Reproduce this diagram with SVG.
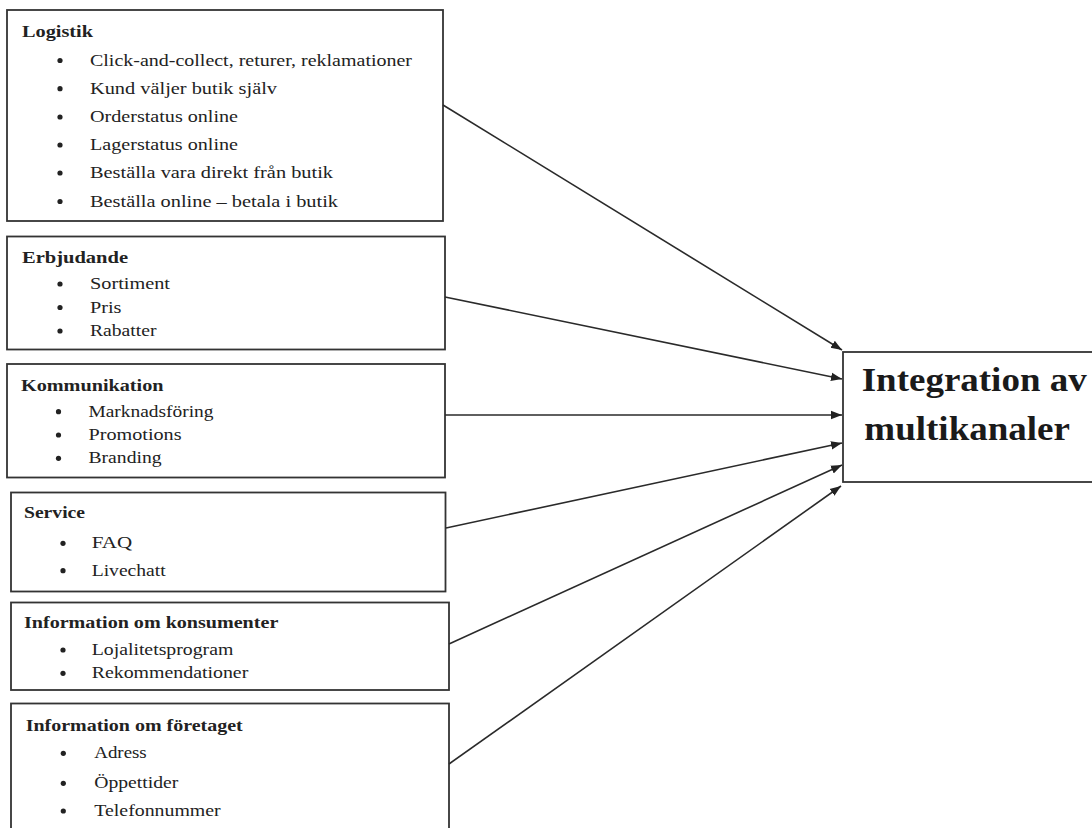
<svg xmlns="http://www.w3.org/2000/svg" width="1092" height="828" viewBox="0 0 1092 828">
<defs>
<style>
.box{fill:#fff;stroke:#333;stroke-width:1.8}
.h{font-family:"Liberation Serif","Times New Roman",serif;font-weight:bold;font-size:16px;fill:#222}
.t{font-family:"Liberation Serif","Times New Roman",serif;font-size:16px;fill:#222}
.b{fill:#222}
.title{font-family:"Liberation Serif","Times New Roman",serif;font-weight:bold;font-size:34px;fill:#1a1a1a}
.c{stroke:#2a2a2a;stroke-width:1.6;fill:none;marker-end:url(#ah)}
</style>
<marker id="ah" markerWidth="12" markerHeight="10" refX="11" refY="5" orient="auto" markerUnits="userSpaceOnUse">
<path d="M0,0.8 L11,5 L0,9.2 Z" fill="#222"/>
</marker>
</defs>
<rect width="1092" height="828" fill="#fff"/>

<g id="logistik">
<rect class="box" x="7" y="10" width="436" height="211"/>
<text class="h" x="22" y="36.5" textLength="71" lengthAdjust="spacingAndGlyphs">Logistik</text>
<circle class="b" cx="60" cy="60.5" r="2.6"/><text class="t" x="90" y="65.5" textLength="322" lengthAdjust="spacingAndGlyphs">Click-and-collect, returer, reklamationer</text>
<circle class="b" cx="60" cy="88.7" r="2.6"/><text class="t" x="90" y="93.7" textLength="187" lengthAdjust="spacingAndGlyphs">Kund väljer butik själv</text>
<circle class="b" cx="60" cy="117" r="2.6"/><text class="t" x="90" y="122" textLength="148" lengthAdjust="spacingAndGlyphs">Orderstatus online</text>
<circle class="b" cx="60" cy="145" r="2.6"/><text class="t" x="90" y="150" textLength="148" lengthAdjust="spacingAndGlyphs">Lagerstatus online</text>
<circle class="b" cx="60" cy="173" r="2.6"/><text class="t" x="90" y="178" textLength="243" lengthAdjust="spacingAndGlyphs">Beställa vara direkt från butik</text>
<circle class="b" cx="60" cy="201.5" r="2.6"/><text class="t" x="90" y="206.5" textLength="248" lengthAdjust="spacingAndGlyphs">Beställa online – betala i butik</text>
</g>

<g id="erbjudande">
<rect class="box" x="7" y="236.5" width="438" height="113"/>
<text class="h" x="22" y="263" textLength="106" lengthAdjust="spacingAndGlyphs">Erbjudande</text>
<circle class="b" cx="60" cy="284" r="2.6"/><text class="t" x="90" y="289" textLength="80" lengthAdjust="spacingAndGlyphs">Sortiment</text>
<circle class="b" cx="60" cy="307.5" r="2.6"/><text class="t" x="90" y="312.5" textLength="31.5" lengthAdjust="spacingAndGlyphs">Pris</text>
<circle class="b" cx="60" cy="331" r="2.6"/><text class="t" x="90" y="336" textLength="66.5" lengthAdjust="spacingAndGlyphs">Rabatter</text>
</g>

<g id="kommunikation">
<rect class="box" x="7" y="364" width="438" height="113.5"/>
<text class="h" x="21" y="390.5" textLength="142.5" lengthAdjust="spacingAndGlyphs">Kommunikation</text>
<circle class="b" cx="58.5" cy="411.7" r="2.6"/><text class="t" x="88.5" y="416.7" textLength="125" lengthAdjust="spacingAndGlyphs">Marknadsföring</text>
<circle class="b" cx="58.5" cy="435" r="2.6"/><text class="t" x="88.5" y="440" textLength="93" lengthAdjust="spacingAndGlyphs">Promotions</text>
<circle class="b" cx="58.5" cy="458.3" r="2.6"/><text class="t" x="88.5" y="463.3" textLength="73" lengthAdjust="spacingAndGlyphs">Branding</text>
</g>

<g id="service">
<rect class="box" x="11" y="492.5" width="434.5" height="99"/>
<text class="h" x="24" y="518.3" textLength="61" lengthAdjust="spacingAndGlyphs">Service</text>
<circle class="b" cx="63" cy="543.3" r="2.6"/><text class="t" x="91.7" y="548.3" textLength="40.5" lengthAdjust="spacingAndGlyphs">FAQ</text>
<circle class="b" cx="63" cy="570.7" r="2.6"/><text class="t" x="91.7" y="575.7" textLength="74" lengthAdjust="spacingAndGlyphs">Livechatt</text>
</g>

<g id="konsumenter">
<rect class="box" x="11" y="602.5" width="438" height="87.5"/>
<text class="h" x="24" y="628.3" textLength="254.3" lengthAdjust="spacingAndGlyphs">Information om konsumenter</text>
<circle class="b" cx="63" cy="650" r="2.6"/><text class="t" x="91.7" y="655" textLength="141.6" lengthAdjust="spacingAndGlyphs">Lojalitetsprogram</text>
<circle class="b" cx="63" cy="673.3" r="2.6"/><text class="t" x="91.7" y="678.3" textLength="156.6" lengthAdjust="spacingAndGlyphs">Rekommendationer</text>
</g>

<g id="foretaget">
<rect class="box" x="11" y="703.5" width="438" height="140"/>
<text class="h" x="25.7" y="730.7" textLength="217" lengthAdjust="spacingAndGlyphs">Information om företaget</text>
<circle class="b" cx="63.3" cy="753.3" r="2.6"/><text class="t" x="94.3" y="758.3" textLength="52.4" lengthAdjust="spacingAndGlyphs">Adress</text>
<circle class="b" cx="63.3" cy="783.3" r="2.6"/><text class="t" x="94.3" y="788.3" textLength="84" lengthAdjust="spacingAndGlyphs">Öppettider</text>
<circle class="b" cx="63.3" cy="811" r="2.6"/><text class="t" x="94.3" y="816" textLength="126.4" lengthAdjust="spacingAndGlyphs">Telefonnummer</text>
</g>

<g id="integration">
<rect class="box" x="843" y="352" width="260" height="130"/>
<text class="title" x="861.7" y="390.7" textLength="225" lengthAdjust="spacingAndGlyphs">Integration av</text>
<text class="title" x="864.3" y="440" textLength="205.7" lengthAdjust="spacingAndGlyphs">multikanaler</text>
</g>

<g id="connectors">
<line class="c" x1="443" y1="105" x2="842" y2="350"/>
<line class="c" x1="445" y1="297" x2="842" y2="379"/>
<line class="c" x1="445" y1="415" x2="842" y2="415"/>
<line class="c" x1="446" y1="528" x2="842" y2="443"/>
<line class="c" x1="449" y1="644" x2="842" y2="465"/>
<line class="c" x1="449" y1="764" x2="841" y2="486"/>
</g>
</svg>
